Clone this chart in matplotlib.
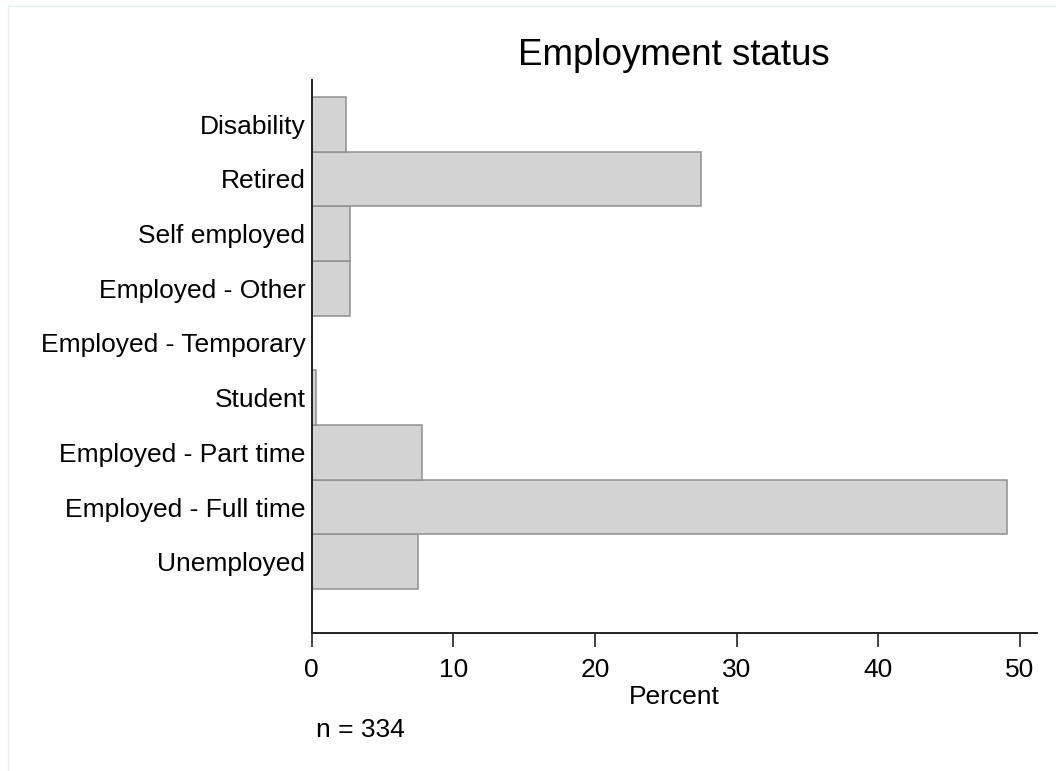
import matplotlib
matplotlib.use("Agg")
import matplotlib.pyplot as plt
from matplotlib.lines import Line2D

categories = ["Unemployed", "Employed - Full time", "Employed - Part time", "Student",
              "Employed - Temporary", "Employed - Other", "Self employed", "Retired", "Disability"]
percent = [7.5, 49.1, 7.8, 0.3, 0.0, 2.7, 2.7, 27.5, 2.4]
xticks = [0, 10, 20, 30, 40, 50]
n_obs = 334

plt.rcParams['font.family'] = ['Liberation Sans', 'DejaVu Sans']

W, H = 1056, 771
fig = plt.figure(figsize=(W / 100, H / 100), dpi=100)
fig.patch.set_facecolor('white')

left, right, bottom, top = 311.7, 1036.7, 633.3, 80
ax = fig.add_axes([left / W, 1 - bottom / H, (right - left) / W, (bottom - top) / H])

pos = list(range(len(categories)))
ax.barh(pos, percent, height=1.0, color='#d3d3d3', edgecolor='#8f8f8f', linewidth=1.1)

ax.set_xlim(0, 51.2)
ax.set_ylim(-1.31, 8.81)
ax.set_yticks(pos)
ax.set_yticklabels(categories, fontsize=19)
ax.set_xticks(xticks)
ax.set_xticklabels([str(t) for t in xticks], fontsize=19)
ax.tick_params(axis='y', length=0, pad=4.5)
ax.tick_params(axis='x', length=10, width=1.2, pad=8, color='#222222')
for s in ['top', 'right']:
    ax.spines[s].set_visible(False)
for s in ['left', 'bottom']:
    ax.spines[s].set_linewidth(1.4)
    ax.spines[s].set_color('#222222')
ax.set_xlabel('Percent', fontsize=19, labelpad=2)

fig.text(674 / W, 1 - 65 / H, 'Employment status', fontsize=26.5, ha='center', va='baseline')
fig.text(316 / W, 1 - 737 / H, f'n = {n_obs}', fontsize=19, ha='left', va='baseline')

# faint outer frame
fig.add_artist(Line2D([8 / W, 8 / W], [0, 1 - 6 / H], transform=fig.transFigure, color='#eaf0f0', lw=1))
fig.add_artist(Line2D([8 / W, 1], [1 - 6 / H, 1 - 6 / H], transform=fig.transFigure, color='#eaf0f0', lw=1))

fig.savefig('out.png', dpi=100)
